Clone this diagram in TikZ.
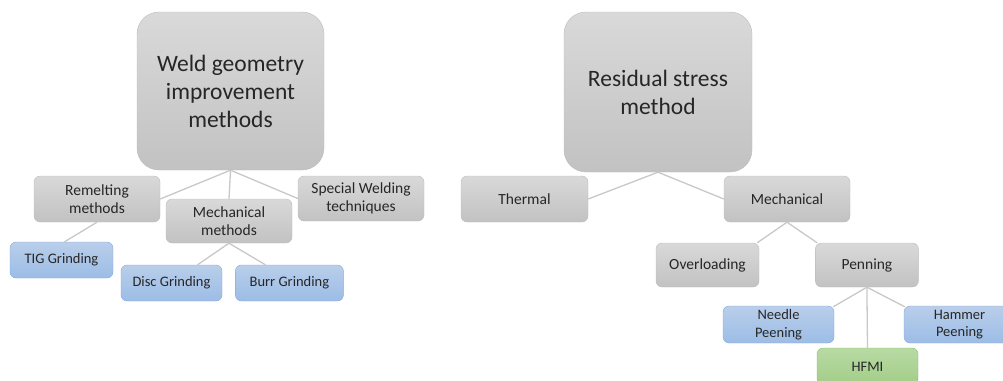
\documentclass[tikz,border=0pt]{standalone}
\usepackage{fontspec}
\setmainfont{Carlito}
\usepackage{xcolor}
\usepackage{tikz}
\usetikzlibrary{positioning}
\definecolor{graytop}{HTML}{D9D9D9}
\definecolor{graybot}{HTML}{C2C2C2}
\definecolor{grayline}{HTML}{BDBDBD}
\definecolor{bluetop}{HTML}{B9CEEA}
\definecolor{bluebot}{HTML}{9CBDE6}
\definecolor{blueline}{HTML}{86AADB}
\definecolor{greentop}{HTML}{B8DAA4}
\definecolor{greenbot}{HTML}{A2CD88}
\definecolor{greenline}{HTML}{88C16A}
\definecolor{linkgray}{HTML}{C8C8C8}
\definecolor{textdark}{HTML}{262626}

\begin{document}
\begin{tikzpicture}[
  x=1pt, y=-1pt,
  box/.style={draw=grayline, top color=graytop, bottom color=graybot,
              rounded corners=6pt, inner sep=0pt, align=center, text=textdark,
              font=\fontsize{15.5}{18.5}\selectfont},
  bigbox/.style={box, rounded corners=22pt, minimum width=187pt, minimum height=158pt,
                 font=\fontsize{23.5}{28}\selectfont},
  leaf/.style={box, draw=blueline, top color=bluetop, bottom color=bluebot,
               minimum height=36pt, font=\fontsize{14.5}{17.5}\selectfont},
  hfmibox/.style={leaf, draw=greenline, top color=greentop, bottom color=greenbot},
  link/.style={draw=linkgray, line width=1.3pt}
]
  \useasboundingbox (0,0) rectangle (1003,380);
  \clip (0,0) rectangle (1003,380);

  % Left tree - weld geometry
  \node[bigbox] (weld) at (230.5,91) {Weld geometry\\improvement\\methods};
  \node[box, minimum width=126pt, minimum height=46pt] (remelt) at (97,199) {Remelting\\methods};
  \node[box, minimum width=126pt, minimum height=44pt] (mechm) at (229,221) {Mechanical\\methods};
  \node[box, minimum width=126pt, minimum height=45pt] (special) at (361,198.5) {Special Welding\\techniques};
  \node[leaf, minimum width=103pt] (tig) at (61.5,260) {TIG Grinding};
  \node[leaf, minimum width=101pt] (disc) at (171.5,283) {Disc Grinding};
  \node[leaf, minimum width=108pt, right=13pt of disc] (burr) {Burr Grinding};

  % Right tree - residual stress
  \node[bigbox, minimum width=188pt, minimum height=160pt] (resid) at (658,92) {Residual stress\\method};
  \node[box, minimum width=127pt, minimum height=46pt] (thermal) at (524.5,199) {Thermal};
  \node[box, minimum width=126pt, minimum height=46pt] (mech) at (787,199) {Mechanical};
  \node[box, minimum width=103pt, minimum height=44pt] (over) at (707.5,265) {Overloading};
  \node[box, minimum width=103pt, minimum height=44pt, right=56pt of over] (pen) {Penning};
  \node[leaf, minimum width=111pt, minimum height=37pt] (needle) at (778.5,324.5) {Needle\\Peening};
  \node[leaf, minimum width=111pt, minimum height=37pt] (hammer) at (959.5,324.5) {Hammer\\Peening};
  \node[hfmibox, minimum width=101pt, minimum height=37pt] (hfmi) at (867.5,366.5) {HFMI};

  % Links
  \draw[link] (weld.south) -- (remelt.east);
  \draw[link] (weld.south) -- (mechm.north);
  \draw[link] (weld.south) -- (special.west);
  \draw[link] (remelt.south) -- ([xshift=3pt]tig.north);
  \draw[link] (mechm.south) -- ([xshift=26pt]disc.north);
  \draw[link] (mechm.south) -- ([xshift=-24pt]burr.north);

  \draw[link] (resid.south) -- (thermal.east);
  \draw[link] (resid.south) -- (mech.west);
  \draw[link] (mech.south) -- ([xshift=-2pt]over.north east);
  \draw[link] (mech.south) -- ([xshift=2pt]pen.north west);
  \draw[link] (pen.south) -- ([xshift=-1pt,yshift=-1pt]needle.north east);
  \draw[link] (pen.south) -- (hfmi.north);
  \draw[link] (pen.south) -- ([xshift=1pt,yshift=-1pt]hammer.north west);
\end{tikzpicture}
\end{document}
